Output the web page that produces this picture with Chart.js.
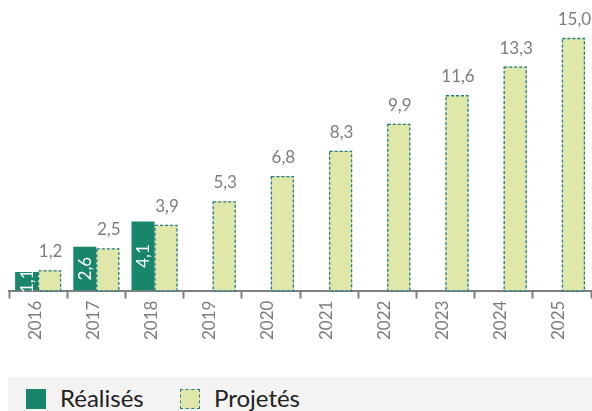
<!DOCTYPE html>
<html>
<head>
<meta charset="utf-8">
<script src="https://cdn.jsdelivr.net/npm/chart.js@4/dist/chart.umd.min.js"></script>
<style>
    html, body { margin: 0; padding: 0; background: #fff; }
    #wrap { position: relative; width: 592px; height: 411px; overflow: hidden; }
    #chartBox { position: absolute; left: 0; top: 0; width: 592px; height: 377px; }
    #legend {
        position: absolute; left: 8px; top: 377px; width: 584px; height: 34px;
        background: #f3f3f3; font-family: Lato, sans-serif; font-size: 24px; color: #222;
    }
    .item { position: absolute; top: 0; height: 34px; }
    .swatch { position: absolute; top: 12px; width: 20px; height: 20px; box-sizing: border-box; }
    .text { position: absolute; top: 7px; left: 34px; white-space: nowrap; line-height: 28px; }
</style>
</head>
<body>
<div id="wrap">
    <div id="chartBox"><canvas id="chart"></canvas></div>
    <div id="legend"></div>
</div>
<script>
const years = ['2016', '2017', '2018', '2019', '2020', '2021', '2022', '2023', '2024', '2025'];
const realises = [1.1, 2.6, 4.1, null, null, null, null, null, null, null];
const projetes = [1.2, 2.5, 3.9, 5.3, 6.8, 8.3, 9.9, 11.6, 13.3, 15.0];
const seriesNames = ['Réalisés', 'Projetés'];

const darkGreen = '#17866b';
const lightGreen = '#dfe8a8';
const dashColor = '#237a8c';
const grey = '#7d7d7d';
const numFont = '400 17px Lato, sans-serif';

const fmt = v => v.toFixed(1).replace('.', ',');

// dashed outline on the projected bars + value labels
const barDecor = {
    id: 'barDecor',
    afterDatasetsDraw(chart) {
        const ctx = chart.ctx;
        const light = chart.getDatasetMeta(1);
        ctx.save();
        ctx.strokeStyle = dashColor;
        ctx.lineWidth = 1.3;
        ctx.setLineDash([3, 2]);
        light.data.forEach(bar => {
            const p = bar.getProps(['x', 'y', 'base', 'width'], true);
            ctx.strokeRect(p.x - p.width / 2 + 0.5, p.y + 0.5, p.width - 1, p.base - p.y);
        });
        ctx.setLineDash([]);

        ctx.font = numFont;
        ctx.fillStyle = grey;
        ctx.textAlign = 'center';
        ctx.textBaseline = 'alphabetic';
        light.data.forEach((bar, i) => {
            const p = bar.getProps(['x', 'y'], true);
            ctx.fillText(fmt(projetes[i]), p.x + 1, p.y - 13);
        });

        const dark = chart.getDatasetMeta(0);
        ctx.fillStyle = '#ffffff';
        ctx.textBaseline = 'middle';
        dark.data.forEach((bar, i) => {
            if (realises[i] == null) return;
            const p = bar.getProps(['x', 'y', 'base'], true);
            ctx.save();
            ctx.translate(p.x, (p.y + p.base) / 2);
            ctx.rotate(-Math.PI / 2);
            ctx.fillText(fmt(realises[i]), 0, 1);
            ctx.restore();
        });
        ctx.restore();
    }
};

const chart = new Chart(document.getElementById('chart'), {
    type: 'bar',
    data: {
        labels: years,
        datasets: [
            {
                label: seriesNames[0],
                data: realises,
                backgroundColor: darkGreen,
                borderWidth: 0
            },
            {
                label: seriesNames[1],
                data: projetes,
                backgroundColor: lightGreen,
                borderWidth: 0
            }
        ]
    },
    options: {
        responsive: true,
        maintainAspectRatio: false,
        animation: false,
        layout: { padding: { left: 9, right: 1, top: 38, bottom: 35 } },
        datasets: { bar: { categoryPercentage: 0.79, barPercentage: 1.0 } },
        plugins: {
            legend: { display: false },
            tooltip: { enabled: false }
        },
        scales: {
            x: {
                grid: {
                    display: true,
                    offset: true,
                    drawOnChartArea: false,
                    drawTicks: true,
                    tickLength: 8,
                    tickWidth: 2,
                    tickColor: '#808080'
                },
                border: { display: true, color: '#808080', width: 2 },
                ticks: {
                    minRotation: 90,
                    maxRotation: 90,
                    padding: 2,
                    labelOffset: -3,
                    color: grey,
                    font: { family: 'Lato, sans-serif', size: 17, weight: 400 }
                }
            },
            y: {
                display: false,
                min: 0,
                max: 15
            }
        }
    },
    plugins: [barDecor]
});

// html legend built from the datasets
const legend = document.getElementById('legend');
const itemLeft = [18, 172];
chart.data.datasets.forEach((ds, i) => {
    const item = document.createElement('div');
    item.className = 'item';
    item.style.left = itemLeft[i] + 'px';
    const sw = document.createElement('div');
    sw.className = 'swatch';
    sw.style.background = ds.backgroundColor;
    if (i === 1) sw.style.border = '1.5px dashed ' + dashColor;
    const tx = document.createElement('div');
    tx.className = 'text';
    tx.textContent = ds.label;
    item.appendChild(sw);
    item.appendChild(tx);
    legend.appendChild(item);
});
</script>
</body>
</html>
